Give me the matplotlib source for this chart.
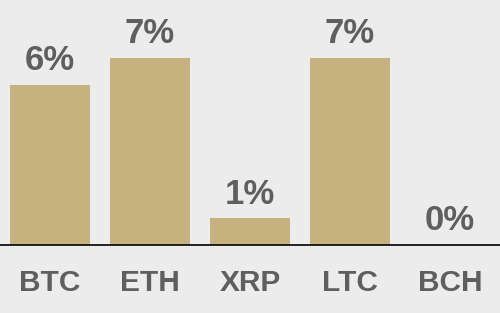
import matplotlib.pyplot as plt

coins = ['BTC', 'ETH', 'XRP', 'LTC', 'BCH']
shares = [6.0, 7.0, 1.0, 7.0, 0.0]
labels = ['6%', '7%', '1%', '7%', '0%']

bg = '#ececec'
bar_col = '#c6b27e'
txt_col = '#5f5f5f'

plt.rcParams['font.family'] = ['Liberation Sans', 'DejaVu Sans']

fig = plt.figure(figsize=(5, 3.13), dpi=100, facecolor=bg)
ax = fig.add_axes([0, 68 / 313, 1, 245 / 313])
ax.set_facecolor(bg)

x = range(len(coins))
bars = ax.bar(x, shares, width=0.8, color=bar_col)
ax.set_xlim(-0.5, 4.5)
ax.set_ylim(0, 245 / 26.7)

for b, lab in zip(bars, labels):
    ax.annotate(lab, (b.get_x() + b.get_width() / 2, b.get_height()),
                xytext=(0, 5.5), textcoords='offset points',
                ha='center', va='bottom', fontsize=25, fontweight='bold',
                color=txt_col)

ax.set_xticks(list(x))
ax.set_xticklabels(coins, fontsize=21.5, fontweight='bold', color=txt_col)
ax.tick_params(axis='x', length=0, pad=17)
ax.set_yticks([])
for s in ['top', 'right', 'left']:
    ax.spines[s].set_visible(False)
ax.spines['bottom'].set_color('black')
ax.spines['bottom'].set_linewidth(1.2)

fig.savefig('out.png', dpi=100, facecolor=bg)
